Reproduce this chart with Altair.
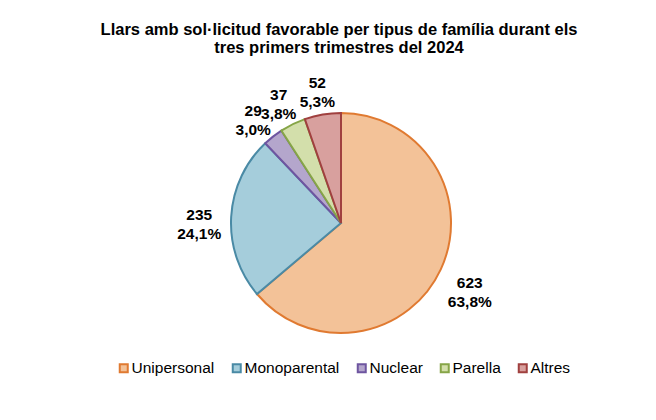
import altair as alt
import pandas as pd

categories = ["Unipersonal", "Monoparental", "Nuclear", "Parella", "Altres"]
values = [623, 235, 29, 37, 52]
pct_labels = ["63,8%", "24,1%", "3,0%", "3,8%", "5,3%"]
fill_colors = ["#F3C298", "#A5CDDB", "#B4A6CC", "#D3DFAB", "#D8A09E"]
stroke_colors = ["#E07A31", "#4A8AA5", "#6E55A0", "#86A547", "#A0403F"]

df = pd.DataFrame({
    "tipus": categories,
    "llars": values,
    "pct": pct_labels,
    "ordre": list(range(len(categories))),
})
df["etiqueta"] = df["llars"].astype(str) + "\n" + df["pct"]

FONT = "Liberation Sans"
cx, cy, R, RL = 333, 165, 110, 142

pie = alt.Chart(df).mark_arc(strokeWidth=2, radius=R).encode(
    theta=alt.Theta("llars:Q", stack=True),
    order=alt.Order("ordre:Q"),
    x=alt.value(cx),
    y=alt.value(cy),
    fill=alt.Fill("tipus:N", scale=alt.Scale(domain=categories, range=fill_colors),
                  legend=alt.Legend(title=None)),
    stroke=alt.Stroke("tipus:N", scale=alt.Scale(domain=categories, range=stroke_colors),
                      legend=alt.Legend(title=None)),
)

labels = alt.Chart(df).transform_joinaggregate(
    total="sum(llars)"
).transform_window(
    cum="sum(llars)", sort=[alt.SortField("ordre")], frame=[None, 0]
).transform_calculate(
    ang=f"(datum.cum - datum.llars / 2) / datum.total * 2 * PI",
).transform_calculate(
    lx=f"{cx} + {RL} * sin(datum.ang)",
    ly=f"{cy} - {RL} * cos(datum.ang)",
).mark_text(
    font=FONT, fontSize=15.5, fontWeight="bold", color="#000000",
    lineBreak="\n", lineHeight=19, align="center", baseline="middle",
).encode(
    x=alt.X("lx:Q", scale=None),
    y=alt.Y("ly:Q", scale=None),
    text="etiqueta:N",
)

chart = alt.layer(pie, labels).properties(
    width=640,
    height=354,
    padding={"left": 0, "right": 0, "top": 50, "bottom": 0},
    autosize=alt.AutoSizeParams(type="none"),
    title=alt.TitleParams(
        text=["Llars amb sol·licitud favorable per tipus de família durant els",
              "tres primers trimestres del 2024"],
        font=FONT, fontSize=16.5, fontWeight="bold", color="#000000",
        anchor="middle", dx=11, offset=2, lineHeight=18,
    ),
).configure_view(stroke=None).configure_legend(
    orient="none", legendX=108, legendY=302, direction="horizontal",
    symbolType="square", symbolSize=64, symbolStrokeWidth=2,
    labelFont=FONT, labelFontSize=15.5, labelColor="#000000",
    columnPadding=13, labelOffset=0, labelLimit=200,
)

chart.save("out.html", embed_options={"renderer": "svg", "actions": False})
